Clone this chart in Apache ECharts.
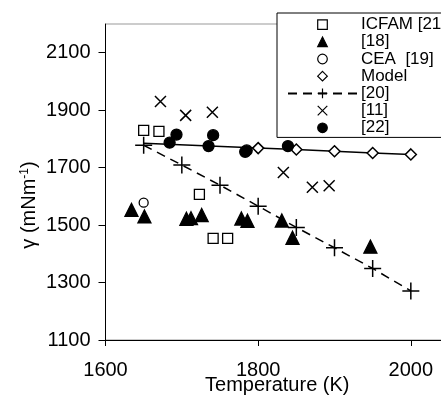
<!DOCTYPE html>
<html>
<head>
<meta charset="utf-8">
<script src="https://cdn.jsdelivr.net/npm/echarts@6/dist/echarts.min.js"></script>
<style>html,body{margin:0;padding:0;background:#fff;}#c{width:441px;height:399px;}</style>
</head>
<body>
<div id="c"></div>
<script>
// Tick labels
var xTicks = [1600, 1800, 2000];
var yTicks = [1100, 1300, 1500, 1700, 1900, 2100];

// Series data: [temperature (K), gamma (mN/m)]
var icfam21 = [[1650,1830],[1670,1826],[1723,1607],[1741,1454],[1760,1454]];
var ref18 = [[1634,1553],[1651,1530],[1706,1522],[1712,1524],[1726,1535],[1778,1523],[1786,1515],[1831,1516],[1845,1456],[1947,1425]];
var cea19 = [[1650,1578]];
var modelT = [1650, 1800, 1850, 1900, 1950, 2000];
var modelG = [1785, 1768, 1763, 1757, 1751, 1746];
var ref20 = [[1650,1778],[1700,1709],[1750,1639],[1800,1566],[1850,1492],[1900,1421],[1950,1349],[2000,1271]];
var ref11 = [[1672,1930],[1705,1882],[1740,1893],[1833,1683],[1871,1632],[1893,1637]];
var ref22 = [[1684,1787],[1693,1815],[1735,1775],[1741,1813],[1783,1755],[1785,1760],[1839,1775]];

var FONT = '"Liberation Sans", Arial, sans-serif';
var PLUS = 'path://M0 5L10 5M5 0L5 10';
var CROSS = 'path://M0 0L10 10M10 0L0 10';

var modelData = modelT.map(function(t,i){
  var d = {value:[t, modelG[i]]};
  if (i === 0) d.symbol = 'none';
  return d;
});

function markerSeries(name, data, symbol, size, fill, extra){
  var s = {
    name: name, type: 'line', data: data,
    symbol: symbol, symbolSize: size, showSymbol: true, showAllSymbol: true,
    lineStyle: {width: 0},
    itemStyle: {color: fill, borderColor: '#000', borderWidth: 1.3},
    emphasis: {disabled: true}, animation: false, z: 3
  };
  if (extra) for (var k in extra) s[k] = extra[k];
  return s;
}
function plain(v){ return String(v); }

var chart = echarts.init(document.getElementById('c'), null, {renderer: 'canvas'});
chart.setOption({
  animation: false,
  backgroundColor: '#fff',
  textStyle: {fontFamily: FONT},
  grid: {left: 105.5, top: 24, bottom: 59, right: -8, outerBoundsMode: 'none', containLabel: false,
         show: true, borderColor: '#999', borderWidth: 1, backgroundColor: 'transparent'},
  xAxis: {
    type: 'value', min: 1600, max: 2050, interval: 200,
    name: 'Temperature (K)', nameLocation: 'middle', nameGap: 35, nameMoveOverlap: false,
    nameTextStyle: {fontSize: 20, color: '#000', fontFamily: FONT},
    axisLine: {show: true, lineStyle: {color: '#000', width: 1}},
    axisTick: {show: true, inside: false, length: 6, lineStyle: {color: '#000'}, customValues: xTicks},
    axisLabel: {fontSize: 20, color: '#000', margin: 20, fontFamily: FONT, customValues: xTicks, formatter: plain},
    splitLine: {show: false}
  },
  yAxis: {
    type: 'value', min: 1100, max: 2200, interval: 200,
    name: '{a|γ (mNm}{s|-1}{a|)}', nameLocation: 'middle', nameGap: 65, nameMoveOverlap: false,
    nameTextStyle: {
      color: '#000', fontFamily: FONT, padding: [0, 46, 0, 0],
      rich: {
        a: {fontSize: 20, color: '#000', fontFamily: FONT, lineHeight: 22},
        s: {fontSize: 12, color: '#000', fontFamily: FONT, lineHeight: 12, verticalAlign: 'top'}
      }
    },
    axisLine: {show: true, lineStyle: {color: '#000', width: 1}},
    axisTick: {show: true, inside: false, length: 7, lineStyle: {color: '#000'}, customValues: yTicks},
    axisLabel: {fontSize: 20, color: '#000', margin: 15, fontFamily: FONT, customValues: yTicks, formatter: plain},
    splitLine: {show: false}
  },
  legend: {
    orient: 'vertical', left: 277, top: 13,
    padding: [3, 30, 1, 10],
    itemWidth: 69, itemHeight: 12, itemGap: 0,
    backgroundColor: '#fff', borderColor: '#000', borderWidth: 1,
    itemStyle: {borderWidth: 1.2},
    textStyle: {fontSize: 17, color: '#000', fontFamily: FONT, lineHeight: 17.2, padding: [0,0,0,-1]},
    selectedMode: false,
    data: ['ICFAM [21]', '[18]', 'CEA  [19]', {name: 'Model', lineStyle: {width: 0, opacity: 0}}, '[20]', '[11]', '[22]']
  },
  series: [
    {
      name: 'Model', type: 'line', data: modelData,
      symbol: 'diamond', symbolSize: 11, showSymbol: true, showAllSymbol: true,
      lineStyle: {color: '#000', width: 1.5},
      itemStyle: {color: '#fff', borderColor: '#000', borderWidth: 1.5},
      emphasis: {disabled: true}, z: 2
    },
    {
      name: '[20]', type: 'line', data: ref20,
      symbol: PLUS, symbolSize: 17, showSymbol: true, showAllSymbol: true,
      lineStyle: {color: '#000', width: 1.5, type: [9, 6]},
      itemStyle: {color: 'transparent', borderColor: '#000', borderWidth: 1.5},
      emphasis: {disabled: true}, z: 2
    },
    markerSeries('ICFAM [21]', icfam21, 'rect', 10, '#fff'),
    markerSeries('[18]', ref18, 'triangle', 13, '#000'),
    markerSeries('CEA  [19]', cea19, 'circle', 9, '#fff'),
    markerSeries('[11]', ref11, CROSS, 11, 'transparent', {itemStyle: {color: 'transparent', borderColor: '#000', borderWidth: 1.5}}),
    markerSeries('[22]', ref22, 'circle', 11, '#000')
  ]
});
</script>
</body>
</html>
